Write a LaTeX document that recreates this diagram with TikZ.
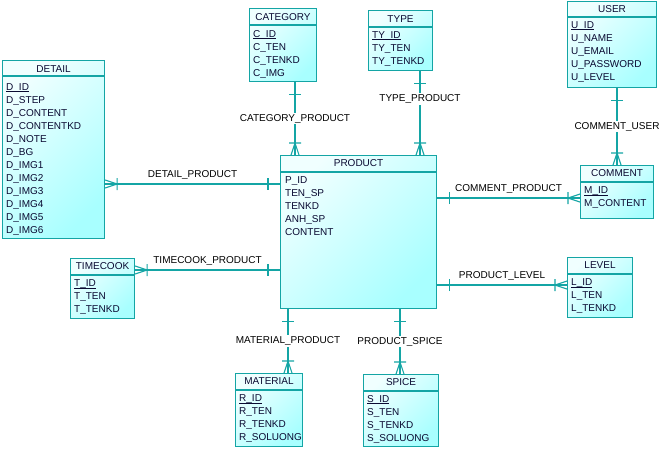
\documentclass[tikz,border=0pt]{standalone}
\usepackage{fontspec}
\setmainfont{Liberation Sans}
\usetikzlibrary{positioning,decorations.markings}

\definecolor{erline}{RGB}{20,165,165}
\definecolor{erlight}{RGB}{240,255,255}
\definecolor{erdark}{RGB}{168,255,255}
\definecolor{ertext}{RGB}{10,10,50}

\newcommand{\pkey}[1]{\underline{\raisebox{0pt}[\height][0pt]{#1}}}

\begin{document}
\begin{tikzpicture}[x=1pt,y=-1pt,
    font=\fontsize{10}{13}\selectfont,
    entity/.style={draw=erline,line width=1.1pt,anchor=north west,inner sep=0pt,
                   top color=erlight,bottom color=erdark,shading angle=45},
    enttitle/.style={text=ertext,inner sep=0pt,text height=7.5pt,text depth=2pt},
    entfields/.style={text=ertext,inner sep=0pt,align=left},
    entline/.style={draw=erline,line width=1.1pt},
    rel/.style={draw=erline,line width=1.1pt},
    rellabel/.style={fill=white,inner sep=1pt,text height=7.5pt,text depth=2pt},
    onebar/.style={postaction={decorate,decoration={markings,
        mark=at position 12pt with {\draw[rel] (0pt,-6pt) -- (0pt,6pt);}}}},
    manyfoot/.style={postaction={decorate,decoration={markings,
        mark=at position -12pt with {\draw[rel] (0pt,-6pt) -- (0pt,6pt)
          (0pt,0pt) -- (12pt,4pt) (0pt,0pt) -- (12pt,-4pt);}}}}]

  \useasboundingbox (0,0) rectangle (666,448);

  % entities
  \node[entity,minimum width=102pt,minimum height=178pt] (detail) at (2,60) {};
  \node[enttitle,below=4.5pt of detail.north] (detail-t) {DETAIL};
  \draw[entline] ([yshift=-16pt]detail.north west) -- ([yshift=-16pt]detail.north east);
  \node[entfields,below right=23pt and 4pt of detail.north west] (detail-f)
    {\pkey{D\_ID}\\D\_STEP\\D\_CONTENT\\D\_CONTENTKD\\D\_NOTE\\D\_BG\\D\_IMG1\\D\_IMG2\\D\_IMG3\\D\_IMG4\\D\_IMG5\\D\_IMG6};

  \node[entity,minimum width=67pt,minimum height=73pt] (category) at (249,8) {};
  \node[enttitle,below=4.5pt of category.north] (category-t) {CATEGORY};
  \draw[entline] ([yshift=-17pt]category.north west) -- ([yshift=-17pt]category.north east);
  \node[entfields,below right=22pt and 4pt of category.north west] (category-f)
    {\pkey{C\_ID}\\C\_TEN\\C\_TENKD\\C\_IMG};

  \node[entity,minimum width=64pt,minimum height=60pt] (type) at (368,10) {};
  \node[enttitle,below=4.5pt of type.north] (type-t) {TYPE};
  \draw[entline] ([yshift=-17pt]type.north west) -- ([yshift=-17pt]type.north east);
  \node[entfields,below right=21pt and 4pt of type.north west] (type-f)
    {\pkey{TY\_ID}\\TY\_TEN\\TY\_TENKD};

  \node[entity,minimum width=89pt,minimum height=86pt] (user) at (567,1) {};
  \node[enttitle,below=4pt of user.north] (user-t) {USER};
  \draw[entline] ([yshift=-16pt]user.north west) -- ([yshift=-16pt]user.north east);
  \node[entfields,below right=20pt and 4pt of user.north west] (user-f)
    {\pkey{U\_ID}\\U\_NAME\\U\_EMAIL\\U\_PASSWORD\\U\_LEVEL};

  \node[entity,minimum width=73pt,minimum height=53pt] (comment) at (580,165) {};
  \node[enttitle,below=4pt of comment.north] (comment-t) {COMMENT};
  \draw[entline] ([yshift=-17pt]comment.north west) -- ([yshift=-17pt]comment.north east);
  \node[entfields,below right=21.5pt and 4pt of comment.north west] (comment-f)
    {\pkey{M\_ID}\\M\_CONTENT};

  \node[entity,minimum width=156pt,minimum height=153pt] (product) at (280,155) {};
  \node[enttitle,below=4pt of product.north] (product-t) {PRODUCT};
  \draw[entline] ([yshift=-17pt]product.north west) -- ([yshift=-17pt]product.north east);
  \node[entfields,below right=21.5pt and 5pt of product.north west] (product-f)
    {P\_ID\\TEN\_SP\\TENKD\\ANH\_SP\\CONTENT};

  \node[entity,minimum width=64pt,minimum height=60pt] (timecook) at (70,258) {};
  \node[enttitle,below=4pt of timecook.north] (timecook-t) {TIMECOOK};
  \draw[entline] ([yshift=-17pt]timecook.north west) -- ([yshift=-17pt]timecook.north east);
  \node[entfields,below right=21.5pt and 4pt of timecook.north west] (timecook-f)
    {\pkey{T\_ID}\\T\_TEN\\T\_TENKD};

  \node[entity,minimum width=65pt,minimum height=60pt] (level) at (567,257) {};
  \node[enttitle,below=4pt of level.north] (level-t) {LEVEL};
  \draw[entline] ([yshift=-17pt]level.north west) -- ([yshift=-17pt]level.north east);
  \node[entfields,below right=21.5pt and 4pt of level.north west] (level-f)
    {\pkey{L\_ID}\\L\_TEN\\L\_TENKD};

  \node[entity,minimum width=67pt,minimum height=73pt] (material) at (235,373) {};
  \node[enttitle,below=4pt of material.north] (material-t) {MATERIAL};
  \draw[entline] ([yshift=-17pt]material.north west) -- ([yshift=-17pt]material.north east);
  \node[entfields,below right=21.5pt and 4pt of material.north west] (material-f)
    {\pkey{R\_ID}\\R\_TEN\\R\_TENKD\\R\_SOLUONG};

  \node[entity,minimum width=75pt,minimum height=72pt] (spice) at (363,374) {};
  \node[enttitle,below=4pt of spice.north] (spice-t) {SPICE};
  \draw[entline] ([yshift=-17pt]spice.north west) -- ([yshift=-17pt]spice.north east);
  \node[entfields,below right=21pt and 4pt of spice.north west] (spice-f)
    {\pkey{S\_ID}\\S\_TEN\\S\_TENKD\\S\_SOLUONG};

  % relationships
  \coordinate (cat-p) at ([xshift=46pt]category.south west);
  \coordinate (typ-p) at ([xshift=52pt]type.south west);
  \coordinate (usr-c) at ([xshift=50pt]user.south west);
  \coordinate (p-det) at ([yshift=-29pt]product.north west);
  \coordinate (p-tc) at ([yshift=-115pt]product.north west);
  \coordinate (p-com) at ([yshift=-43pt]product.north east);
  \coordinate (p-lev) at ([yshift=-130pt]product.north east);
  \coordinate (p-mat) at ([xshift=8pt]product.south west);
  \coordinate (p-spi) at ([xshift=120pt]product.south west);

  \draw[rel,onebar,manyfoot] (cat-p) -- (cat-p |- product.north)
    node[rellabel,midway] (l-cat) {CATEGORY\_PRODUCT};
  \draw[rel,onebar,manyfoot] (typ-p) -- (typ-p |- product.north)
    node[rellabel,pos=0.33] (l-typ) {TYPE\_PRODUCT};
  \draw[rel,onebar,manyfoot] (usr-c) -- (usr-c |- comment.north)
    node[rellabel,midway] (l-usr) {COMMENT\_USER};
  \draw[rel,onebar,manyfoot] (p-det) -- (p-det -| detail.east)
    node[rellabel,midway,above=3pt] (l-det) {DETAIL\_PRODUCT};
  \draw[rel,onebar,manyfoot] (p-tc) -- (p-tc -| timecook.east)
    node[rellabel,midway,above=3pt] (l-tc) {TIMECOOK\_PRODUCT};
  \draw[rel,onebar,manyfoot] (p-com) -- (p-com -| comment.west)
    node[rellabel,midway,above=3pt] (l-com) {COMMENT\_PRODUCT};
  \draw[rel,onebar,manyfoot] (p-lev) -- (p-lev -| level.west)
    node[rellabel,midway,above=3pt] (l-lev) {PRODUCT\_LEVEL};
  \draw[rel,onebar,manyfoot] (p-mat) -- (p-mat |- material.north)
    node[rellabel,midway] (l-mat) {MATERIAL\_PRODUCT};
  \draw[rel,onebar,manyfoot] (p-spi) -- (p-spi |- spice.north)
    node[rellabel,midway] (l-spi) {PRODUCT\_SPICE};
\end{tikzpicture}
\end{document}
